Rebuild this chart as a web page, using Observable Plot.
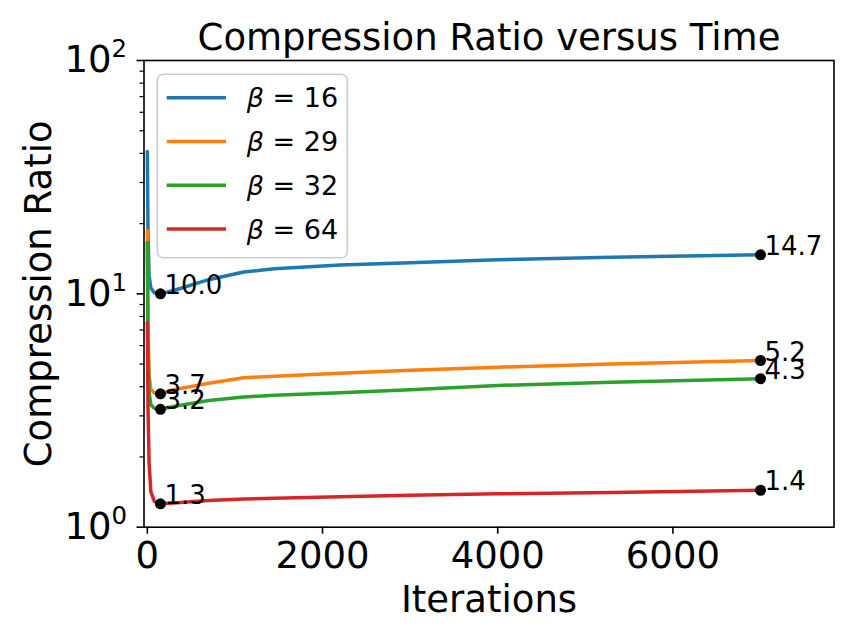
<!DOCTYPE html>
<html><head><meta charset="utf-8">
<script src="https://cdn.jsdelivr.net/npm/d3@7"></script>
<script src="https://cdn.jsdelivr.net/npm/@observablehq/plot@0.6"></script>
<style>body{margin:0;background:#fff} svg{font-family:"DejaVu Sans",sans-serif}</style>
</head><body><div id="chart"></div>
<script>
// ---- data ----
const betaValues = ["16", "29", "32", "64"];
const seriesNames = betaValues.map(b => "β = " + b);
const colors = ["#1f77b4", "#ff7f0e", "#2ca02c", "#d62728"];
const iterations = [0, 8, 20, 40, 80, 150, 300, 700, 1100, 1450, 2200, 3000, 4000, 5300, 7000];
const ratioBeta16 = [40.7, 18, 12, 10.6, 10.1, 10.0, 10.34, 11.5, 12.4, 12.8, 13.3, 13.6, 14.0, 14.35, 14.7];
const ratioBeta29 = [18.7, 7, 4.5, 3.9, 3.76, 3.73, 3.88, 4.14, 4.37, 4.44, 4.57, 4.70, 4.85, 5.0, 5.18];
const ratioBeta32 = [16.6, 6, 3.8, 3.35, 3.23, 3.2, 3.29, 3.49, 3.61, 3.68, 3.77, 3.88, 4.05, 4.18, 4.33];
const ratioBeta64 = [7.55, 3.2, 1.9, 1.42, 1.29, 1.26, 1.27, 1.30, 1.32, 1.33, 1.35, 1.37, 1.39, 1.41, 1.44];
const markerIterations = [150, 7000];
const xTicks = [0, 2000, 4000, 6000];
const yTicks = [1, 10, 100];
const yMinorTicks = [2, 3, 4, 5, 6, 7, 8, 9, 20, 30, 40, 50, 60, 70, 80, 90];

// ---- build tables ----
const allSeries = [ratioBeta16, ratioBeta29, ratioBeta32, ratioBeta64];
const rows = [];
allSeries.forEach((vals, s) => iterations.forEach((it, i) =>
  rows.push({series: seriesNames[s], iter: it, ratio: vals[i]})));
const markers = [];
allSeries.forEach((vals, s) => markerIterations.forEach(it => {
  const v = vals[iterations.indexOf(it)];
  markers.push({series: seriesNames[s], iter: it, ratio: v, label: v.toFixed(1)});
}));

const W = 858, H = 643;
const mL = 143.5, mR = 24.5, mT = 60, mB = 116.3;
const FS = 37;

const chart = Plot.plot({
  width: W, height: H,
  marginLeft: mL, marginRight: mR, marginTop: mT, marginBottom: mB,
  style: {fontFamily: "DejaVu Sans", background: "white", color: "black"},
  x: {domain: [-38, 7839]},
  y: {type: "log", domain: [1, 100]},
  color: {domain: seriesNames, range: colors},
  marks: [
    Plot.line(rows, {x: "iter", y: "ratio", z: "series", stroke: "series", strokeWidth: 3.5}),
    Plot.dot(markers, {x: "iter", y: "ratio", r: 5.5, fill: "black"}),
    Plot.text(markers, {x: "iter", y: "ratio", text: "label", textAnchor: "start", lineAnchor: "bottom", dx: 4, fontSize: 26, fill: "black"}),
    Plot.frame({stroke: "black", strokeWidth: 1.6}),
    Plot.axisX({ticks: xTicks, tickSize: 7, tickPadding: 8, fontSize: FS, strokeWidth: 1.6, label: null, tickFormat: d => String(d)}),
    Plot.axisY({ticks: yTicks, tickSize: 7, tickPadding: 10, fontSize: FS, strokeWidth: 1.6, label: null,
      tickFormat: d => "10^" + Math.round(Math.log10(d))}),
    Plot.axisY({ticks: yMinorTicks, tickSize: 4, strokeWidth: 1.2, label: null, tickFormat: () => ""}),
    Plot.text(["Compression Ratio versus Time"], {frameAnchor: "top", textAnchor: "middle", lineAnchor: "bottom", dy: -10.7, fontSize: FS, fill: "black"}),
    Plot.text(["Iterations"], {frameAnchor: "bottom", textAnchor: "middle", lineAnchor: "bottom", dy: 85, fontSize: FS, fill: "black"}),
    Plot.text(["Compression Ratio"], {frameAnchor: "left", textAnchor: "middle", rotate: -90, lineAnchor: "bottom", dx: -93.5, fontSize: FS, fill: "black"})
  ]
});
document.getElementById("chart").appendChild(chart);

// ---- superscript exponents on the log-axis tick labels ----
const svgNS = "http://www.w3.org/2000/svg";
d3.select(chart).selectAll("text").each(function () {
  const m = (this.textContent || "").match(/^10\^(-?\d+)$/);
  if (!m) return;
  this.textContent = "10";
  const ts = document.createElementNS(svgNS, "tspan");
  ts.setAttribute("dy", "-15");
  ts.setAttribute("font-size", "0.66em");
  ts.textContent = m[1];
  this.appendChild(ts);
});

// ---- legend (upper left, inside axes) ----
const svg = d3.select(chart);
const lg = svg.append("g").attr("class", "legend");
lg.append("rect").attr("x", 157.3).attr("y", 74.3).attr("width", 190).attr("height", 183.4)
  .attr("rx", 6).attr("fill", "white").attr("fill-opacity", 0.8)
  .attr("stroke", "#cccccc").attr("stroke-width", 1.6);
seriesNames.forEach((name, i) => {
  const y = 97.7 + i * 43.8;
  lg.append("line").attr("x1", 166.7).attr("x2", 226).attr("y1", y).attr("y2", y)
    .attr("stroke", colors[i]).attr("stroke-width", 3.5);
  const t = lg.append("text").attr("x", 246.7).attr("y", y).attr("dy", "0.36em")
    .attr("text-anchor", "start")
    .attr("font-size", 27).attr("font-family", "DejaVu Sans").attr("fill", "black");
  t.append("tspan").attr("font-style", "italic").text("β");
  t.append("tspan").text(" = " + betaValues[i]);
});
</script>
</body></html>
